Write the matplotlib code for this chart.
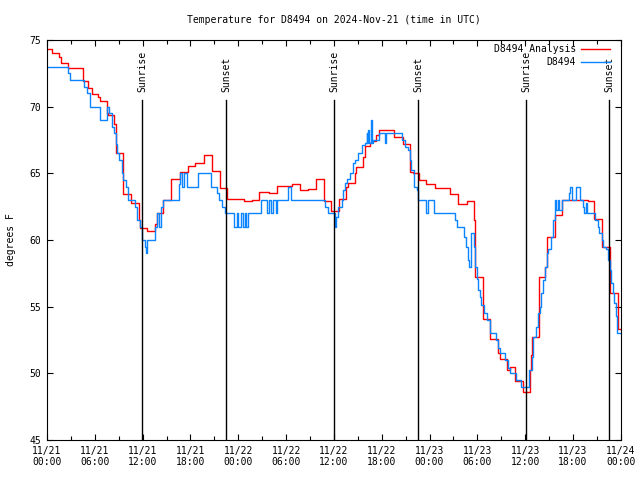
import numpy as np
import matplotlib
matplotlib.use('Agg')
import matplotlib.pyplot as plt
import matplotlib.transforms as mtransforms

# hours since 2024-11-21 00:00 UTC, temperature in F (step data)
red_h = [0, 0.6, 1.55, 1.8, 2.7, 4.55, 5.2, 5.6, 6.4, 6.7, 7.5, 7.7, 8.4, 8.65,
         9.5, 9.6, 10.6, 11.55, 11.67, 12.5, 13.6, 13.76, 14.6, 15.6, 16.7, 17.7,
         18.6, 19.7, 20.7, 21.7, 22.6, 23.6, 24.7, 25.7, 26.6, 27.8, 28.8, 30.7,
         31.7, 32.8, 33.7, 34.7, 35.7, 36.7, 37.5, 37.8, 38.6, 38.8, 39.6, 39.9,
         40.5, 40.7, 41.3, 41.7, 43.5, 44.7, 45.6, 45.95, 46.7, 47.6, 48.7, 50.6,
         51.6, 52.7, 53.6, 53.7, 54.65, 55.6, 56.6, 56.8, 57.7, 58.1, 58.7, 59.75,
         60.6, 60.7, 60.9, 61.75, 62.5, 62.7, 63.7, 64.6, 67.9, 68.7, 69.6, 70.7,
         71.65, 71.7, 72.0]
red_t = [74.3, 74.0, 73.7, 73.3, 72.9, 71.9, 71.4, 70.95, 70.7, 70.45, 69.5, 69.4,
         68.7, 66.55, 64.9, 63.45, 62.75, 61.5, 60.9, 60.7, 61.2, 62.0, 63.0, 64.6,
         65.1, 65.55, 65.8, 66.4, 65.2, 63.9, 63.1, 63.05, 62.9, 63.0, 63.6, 63.5,
         64.05, 64.2, 63.75, 63.8, 64.55, 62.9, 62.2, 63.1, 64.0, 64.3, 65.0, 65.45,
         66.25, 67.05, 67.3, 67.4, 67.9, 68.25, 67.7, 67.2, 65.1, 65.05, 64.5, 64.2,
         63.9, 63.45, 62.7, 62.9, 61.5, 57.25, 54.1, 52.55, 51.5, 51.05, 50.25, 50.45,
         49.4, 48.6, 50.25, 51.4, 52.75, 57.25, 58.0, 60.2, 61.9, 63.0, 62.9, 61.6,
         59.5, 56.0, 55.3, 53.3, 53.3]

blue_h = [0, 2.7, 2.9, 4.7, 5.0, 5.4, 6.65, 7.5, 7.8, 8.2, 8.4, 8.65, 8.8, 9.07,
          9.37, 9.57, 9.9, 10.2, 11.0, 11.25, 11.67, 11.88, 12.3, 12.4, 12.6, 13.6,
          13.85, 14.05, 14.3, 14.5, 16.6, 16.75, 16.95, 17.25, 17.6, 18.9, 20.55,
          21.3, 21.6, 21.9, 22.3, 23.5, 23.8, 24.0, 24.4, 24.6, 24.8, 25.0, 25.2,
          26.9, 27.6, 27.9, 28.1, 28.4, 28.7, 28.9, 30.2, 30.6, 34.9, 35.2, 36.1,
          36.3, 36.5, 37.0, 37.2, 37.4, 37.6, 38.0, 38.4, 38.6, 39.0, 39.5, 39.9,
          40.1, 40.2, 40.3, 40.45, 40.6, 40.75, 40.9, 41.6, 42.4, 42.6, 44.5, 44.9,
          45.3, 45.5, 45.7, 46.1, 46.4, 46.6, 47.6, 47.8, 48.6, 51.2, 51.4, 52.3,
          52.6, 52.85, 53.0, 53.2, 53.55, 53.7, 53.9, 54.1, 54.3, 54.5, 54.8, 55.2,
          55.6, 56.4, 56.6, 56.9, 57.45, 57.8, 58.1, 58.9, 59.5, 60.5, 60.8, 61.0,
          61.3, 61.6, 61.8, 62.0, 62.2, 62.5, 62.7, 62.9, 63.2, 63.5, 63.7, 63.9,
          64.1, 64.3, 64.6, 65.5, 65.6, 65.9, 66.4, 66.9, 67.2, 67.4, 67.6, 67.8,
          68.8, 69.1, 69.3, 69.6, 69.8, 70.2, 70.4, 70.6, 70.8, 71.0, 71.2, 71.35,
          71.5, 72.0]
blue_t = [73.0, 72.5, 72.0, 71.5, 71.0, 70.0, 69.0, 70.0, 69.5, 68.5, 68.0, 67.2,
          66.5, 66.0, 65.0, 64.5, 64.0, 63.0, 62.5, 61.5, 61.0, 60.0, 59.5, 59.0,
          60.0, 61.0, 62.0, 61.0, 62.5, 63.0, 64.2, 65.0, 64.0, 65.0, 64.0, 65.0,
          64.0, 63.5, 63.0, 62.5, 62.0, 61.0, 62.0, 61.0, 62.0, 61.0, 62.0, 61.0,
          62.0, 63.0, 62.0, 63.0, 62.0, 63.0, 62.0, 63.0, 64.0, 63.0, 62.5, 62.0,
          61.0, 61.75, 62.5, 63.0, 63.75, 64.25, 64.6, 65.0, 65.75, 66.0, 66.5,
          67.1, 67.3, 68.0, 67.3, 68.25, 67.3, 69.0, 67.3, 67.5, 68.0, 67.25, 68.0,
          67.5, 67.0, 66.75, 66.0, 65.25, 64.0, 63.75, 63.0, 62.0, 63.0, 62.0, 61.5,
          61.0, 60.25, 59.5, 58.5, 58.0, 60.5, 59.5, 58.0, 57.1, 56.25, 55.75, 55.1,
          54.5, 54.0, 53.0, 52.5, 51.9, 51.5, 51.0, 50.4, 50.0, 49.5, 49.0, 50.25,
          51.25, 52.75, 53.5, 54.5, 55.0, 56.0, 57.0, 58.0, 59.0, 59.3, 60.25, 61.5,
          63.0, 62.25, 63.0, 62.25, 63.0, 63.5, 64.0, 63.0, 64.0, 63.0, 62.5, 62.0,
          62.75, 62.0, 61.5, 61.0, 60.5, 60.0, 59.5, 59.3, 58.5, 57.75, 56.75, 56.0,
          55.25, 54.3, 53.0, 53.0]

sun_h = [11.95, 22.5, 36.03, 46.57, 60.15, 70.53]
sun_labels = ['Sunrise', 'Sunset', 'Sunrise', 'Sunset', 'Sunrise', 'Sunset']

xtick_h = list(range(0, 73, 6))
xtick_labels = ['11/21\n00:00', '11/21\n06:00', '11/21\n12:00', '11/21\n18:00',
                '11/22\n00:00', '11/22\n06:00', '11/22\n12:00', '11/22\n18:00',
                '11/23\n00:00', '11/23\n06:00', '11/23\n12:00', '11/23\n18:00',
                '11/24\n00:00']

plt.rcParams['font.family'] = 'DejaVu Sans Mono'
plt.rcParams['font.size'] = 7

fig = plt.figure(figsize=(6.4, 4.8), dpi=100)
ax = fig.add_axes([0.0734, 0.0833, 0.8966, 0.8334])

ax.plot(red_h, red_t, drawstyle='steps-post', color='#ff0000', lw=1.0,
        label='D8494 Analysis')
ax.plot(blue_h, blue_t, drawstyle='steps-post', color='#0a84ff', lw=1.0,
        label='D8494')

trans = mtransforms.blended_transform_factory(ax.transData, ax.transAxes)
for h, lab in zip(sun_h, sun_labels):
    ax.plot([h, h], [0, 0.85], color='black', lw=1.0, transform=trans)
    ax.text(h, 0.87, lab, rotation=90, ha='center', va='bottom',
            transform=trans, fontsize=7)

ax.set_xlim(0, 72)
ax.set_ylim(45, 75)
ax.set_xticks(xtick_h)
ax.set_xticklabels(xtick_labels)
ax.set_xticks(range(3, 72, 6), minor=True)
ax.set_yticks(range(45, 76, 5))
ax.tick_params(which='both', direction='in', top=True, right=True, width=0.8)
ax.tick_params(which='major', length=4.5, pad=4)
ax.tick_params(which='minor', length=3)
for s in ax.spines.values():
    s.set_linewidth(0.8)

ax.set_ylabel('degrees F', labelpad=10)
ax.set_title('Temperature for D8494 on 2024-Nov-21 (time in UTC)', fontsize=7, pad=12)

ax.legend(loc='upper right', bbox_to_anchor=(0.981, 0.99), frameon=False,
          markerfirst=False, handlelength=3.0, labelspacing=0.35,
          borderaxespad=0, borderpad=0, handletextpad=0.5, fontsize=7)

fig.savefig('out.png', dpi=100)
